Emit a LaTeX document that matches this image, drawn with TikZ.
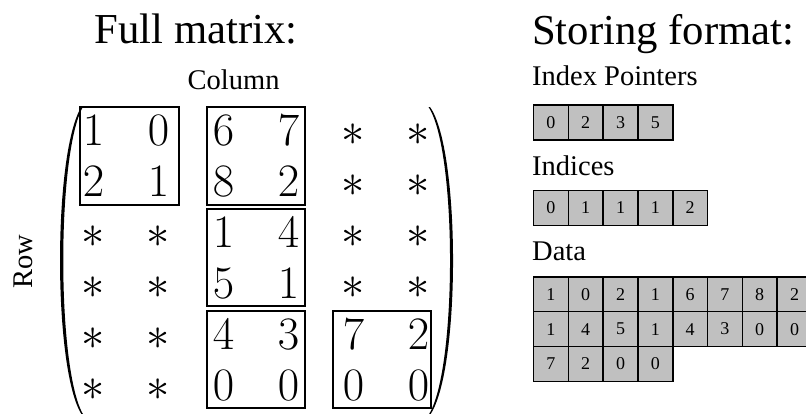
\RequirePackage{fix-cm}
\documentclass[tikz,border=0pt]{standalone}
\usepackage{fontspec}
\newfontfamily\timesfont{Liberation Serif}
\usepackage{tikz}
\definecolor{cellgray}{RGB}{192,192,192}

\begin{document}
\begin{tikzpicture}[x=1pt,y=-1pt,
    title/.style={font=\timesfont\fontsize{42.7}{48}\selectfont,inner sep=0pt,anchor=base west},
    lbl/.style={font=\timesfont\fontsize{28.5}{32}\selectfont,inner sep=0pt},
    entry/.style={font=\fontsize{46.5}{50}\selectfont,inner sep=0pt,anchor=base},
    block/.style={draw,line width=1.2pt},
    cell/.style={draw,line width=1.6pt,fill=cellgray,minimum width=34.8pt,minimum height=35pt,
      inner sep=0pt,anchor=north west,font=\timesfont\fontsize{18}{20}\selectfont}]
    \useasboundingbox (0,0) rectangle (806,413);

    % full matrix
    \node [title] (fulltitle) at (94.5,43.3) {Full matrix:};
    \node [lbl,anchor=base west] (collabel) at (187.5,89) {Column};
    \node [lbl,rotate=90] (rowlabel) at (23.5,262) {Row};
    \foreach \entries [count=\ri from 0] in {{1,0,6,7,\ast,\ast},{2,1,8,2,\ast,\ast},
        {\ast,\ast,1,4,\ast,\ast},{\ast,\ast,5,1,\ast,\ast},{\ast,\ast,4,3,7,2},{\ast,\ast,0,0,0,0}}
      \foreach \val [count=\ci from 0] in \entries
        \node [entry] (m\ri\ci) at (93.5+65*\ci,145+51*\ri) {$\val$};
    \draw [block] (80,107) rectangle (179,205);
    \draw [block] (207,107) rectangle (305,205);
    \draw [block] (207,209) rectangle (305,306);
    \draw [block] (207,311) rectangle (305,408);
    \draw [block] (333,311) rectangle (431,408);
    % parentheses
    \fill (82,106) .. controls (52.7,150) and (52.7,371) .. (82,415)
      -- (83.5,415) .. controls (56.5,371) and (56.5,150) .. (83.5,106) -- cycle;
    \fill (430,107) .. controls (460.7,150) and (460.7,371) .. (430,415)
      -- (428.5,415) .. controls (457.2,371) and (457.2,150) .. (428.5,107) -- cycle;

    % storing format
    \node [title] (storetitle) at (532,44) {Storing format:};
    \node [lbl,anchor=base west] (ptrlabel) at (532,85) {Index Pointers};
    \foreach \val [count=\k from 0] in {0,2,3,5}
      \node [cell] (ptr\k) at (532.7+34.8*\k,104) {\val};
    \node [lbl,anchor=base west] (idxlabel) at (532,175) {Indices};
    \foreach \val [count=\k from 0] in {0,1,1,1,2}
      \node [cell] (idx\k) at (532.7+34.8*\k,189.5) {\val};
    \node [lbl,anchor=base west] (datlabel) at (532,260) {Data};
    \foreach \val [count=\k from 0] in {1,0,2,1,6,7,8,2,1,4,5,1,4,3,0,0,7,2,0,0} {
      \pgfmathtruncatemacro\col{mod(\k,8)}
      \pgfmathtruncatemacro\rw{div(\k,8)}
      \node [cell] (dat\k) at (532.7+34.8*\col,276+34.8*\rw) {\val};
    }
  \end{tikzpicture}
\end{document}
